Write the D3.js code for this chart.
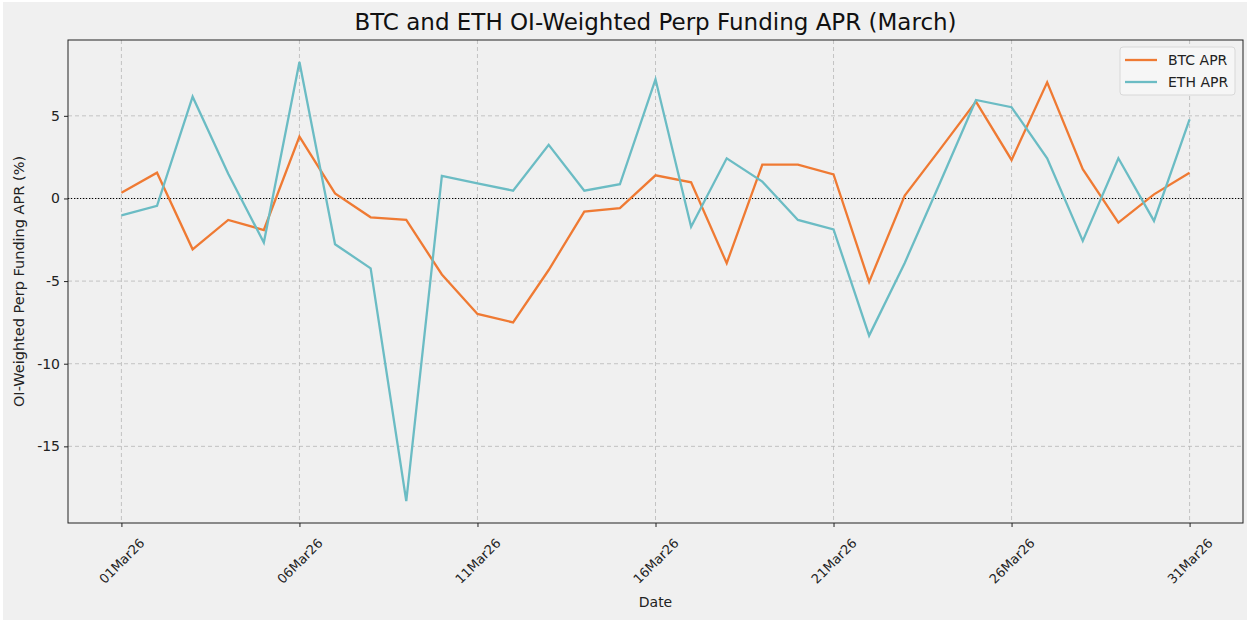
<!DOCTYPE html>
<html>
<head>
<meta charset="utf-8">
<script src="https://cdn.jsdelivr.net/npm/d3@7"></script>
<style>
  html, body { margin: 0; padding: 0; background: #ffffff; }
  svg { display: block; font-family: "DejaVu Sans", sans-serif; }
</style>
</head>
<body>
<svg id="chart" width="1250" height="620"></svg>
<script>
// ---- data ----
const dates = d3.range(1, 32).map(d => new Date(2026, 2, d));
const btcApr = [0.35, 1.56, -3.08, -1.30, -1.91, 3.74, 0.31, -1.14, -1.30, -4.6,
                -6.99, -7.50, -4.33, -0.80, -0.59, 1.40, 0.98, -3.92, 2.05, 2.05,
                1.46, -5.05, 0.17, 3.0, 5.86, 2.33, 7.03, 1.77, -1.46, 0.25, 1.56];
const ethApr = [-1.02, -0.45, 6.16, 1.5, -2.67, 8.26, -2.77, -4.23, -18.31, 1.36,
                0.92, 0.47, 3.24, 0.47, 0.86, 7.21, -1.71, 2.43, 1.02, -1.30,
                -1.87, -8.30, -3.9, 1.0, 5.96, 5.52, 2.43, -2.57, 2.43, -1.36, 4.79];
const seriesNames = ["BTC APR", "ETH APR"];
const yTickValues = [-15, -10, -5, 0, 5];
const xTickDays = [1, 6, 11, 16, 21, 26, 31];
const titleText = "BTC and ETH OI-Weighted Perp Funding APR (March)";
const xLabelText = "Date";
const yLabelText = "OI-Weighted Perp Funding APR (%)";

// ---- layout ----
const colors = ["#ef7a33", "#6bbcc4"];
const svg = d3.select("#chart");
const L = 68, R = 1243, T = 40, B = 523;

svg.append("rect").attr("x", 3).attr("y", 2).attr("width", 1244).attr("height", 618).attr("fill", "#f0f0f0");

const dayMs = 86400000;
const x = d3.scaleTime()
  .domain([new Date(dates[0].getTime() - 1.5 * dayMs), new Date(dates[30].getTime() + 1.5 * dayMs)])
  .range([L, R]);
const allVals = btcApr.concat(ethApr);
const ymin = d3.min(allVals), ymax = d3.max(allVals), rng = ymax - ymin;
const y = d3.scaleLinear().domain([ymin - 0.05 * rng, ymax + 0.05 * rng]).range([B, T]);

const xTicks = xTickDays.map(d => new Date(2026, 2, d));
const fmt = d3.timeFormat("%d%b%y");

// grid
const grid = svg.append("g");
grid.selectAll("line.gx").data(xTicks).enter().append("line")
  .attr("x1", d => x(d)).attr("x2", d => x(d)).attr("y1", T).attr("y2", B)
  .attr("stroke", "#b8b8b8").attr("stroke-width", 0.8).attr("stroke-dasharray", "4,3");
grid.selectAll("line.gy").data(yTickValues).enter().append("line")
  .attr("x1", L).attr("x2", R).attr("y1", d => y(d)).attr("y2", d => y(d))
  .attr("stroke", "#b8b8b8").attr("stroke-width", 0.8).attr("stroke-dasharray", "4,3");

// zero line
svg.append("line").attr("x1", L).attr("x2", R).attr("y1", y(0)).attr("y2", y(0))
  .attr("stroke", "#000").attr("stroke-width", 1.1).attr("stroke-dasharray", "1.2,1.8");

// lines
const line = d3.line().x((d, i) => x(dates[i])).y(d => y(d));
[btcApr, ethApr].forEach((s, k) => {
  svg.append("path").datum(s).attr("d", line).attr("fill", "none")
    .attr("stroke", colors[k]).attr("stroke-width", 2.3).attr("stroke-linejoin", "miter");
});

// frame
svg.append("rect").attr("x", L).attr("y", T).attr("width", R - L).attr("height", B - T)
  .attr("fill", "none").attr("stroke", "#222").attr("stroke-width", 1);

// axes
const xAxis = d3.axisBottom(x).tickValues(xTicks).tickFormat(fmt).tickSize(4).tickPadding(3);
const gx = svg.append("g").attr("transform", `translate(0,${B})`).call(xAxis);
gx.select(".domain").remove();
gx.selectAll(".tick line").attr("stroke", "#222");
gx.selectAll(".tick text")
  .attr("font-size", 13).attr("fill", "#222").attr("font-family", "DejaVu Sans")
  .attr("text-anchor", "middle").attr("dy", null).attr("y", null)
  .attr("dominant-baseline", "central")
  .attr("transform", "translate(0,38) rotate(-45)");

const yAxis = d3.axisLeft(y).tickValues(yTickValues).tickFormat(d => String(d)).tickSize(4).tickPadding(4);
const gy = svg.append("g").attr("transform", `translate(${L},0)`).call(yAxis);
gy.select(".domain").remove();
gy.selectAll(".tick line").attr("stroke", "#222");
gy.selectAll(".tick text").attr("font-size", 14).attr("fill", "#222").attr("font-family", "DejaVu Sans");

// title and labels
svg.append("text").attr("x", (L + R) / 2).attr("y", 30).attr("text-anchor", "middle")
  .attr("font-size", 23).attr("fill", "#111").text(titleText);
svg.append("text").attr("x", (L + R) / 2).attr("y", 607).attr("text-anchor", "middle")
  .attr("font-size", 14).attr("fill", "#222").text(xLabelText);
svg.append("text").attr("transform", `translate(24,${(T + B) / 2}) rotate(-90)`)
  .attr("text-anchor", "middle").attr("font-size", 14.5).attr("fill", "#222").text(yLabelText);

// legend
const lg = svg.append("g").attr("transform", "translate(1120,47)");
lg.append("rect").attr("width", 115).attr("height", 48).attr("rx", 3)
  .attr("fill", "#f6f6f6").attr("stroke", "#d8d8d8").attr("stroke-width", 1);
seriesNames.forEach((n, i) => {
  lg.append("line").attr("x1", 5).attr("x2", 37).attr("y1", 13 + i * 22).attr("y2", 13 + i * 22)
    .attr("stroke", colors[i]).attr("stroke-width", 2.3);
  lg.append("text").attr("x", 48).attr("y", 13 + i * 22).attr("dominant-baseline", "central")
    .attr("font-size", 14).attr("fill", "#222").text(n);
});
</script>
</body>
</html>
